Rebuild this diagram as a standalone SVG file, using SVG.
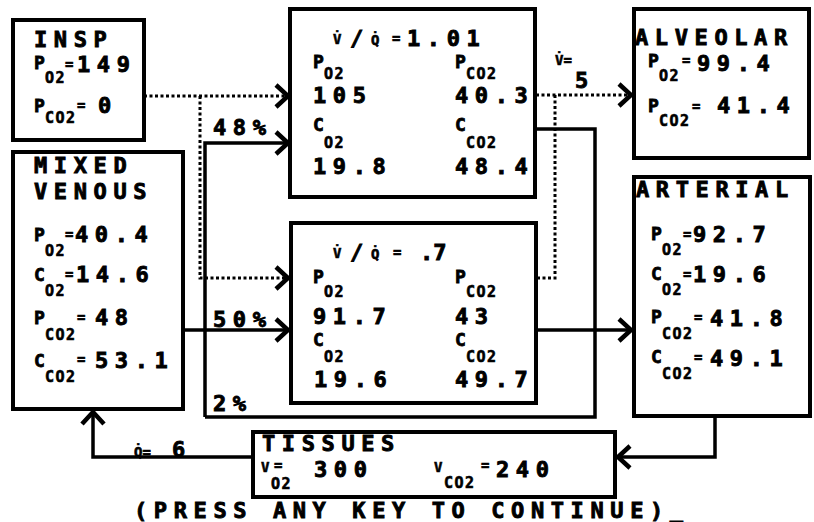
<svg xmlns="http://www.w3.org/2000/svg" width="814" height="522" viewBox="0 0 814 522">
<defs>
<style>
.t{font-family:"DejaVu Sans Mono","Liberation Mono",monospace;font-weight:bold;font-size:22px;letter-spacing:6.6px;fill:#000;stroke:#000;stroke-width:0.9px}
.s{font-size:15px;letter-spacing:1.5px;stroke-width:0.6px}
.e{font-size:14px;letter-spacing:0;stroke-width:0.6px}
.p{font-size:18px;letter-spacing:0;stroke-width:0.8px}
.n{letter-spacing:0}
.box{fill:#fff;stroke:#000;stroke-width:4}
.ln{fill:none;stroke:#000;stroke-width:3.5}
.dot{fill:none;stroke:#000;stroke-width:3;stroke-dasharray:3 2.5}
</style>
<marker id="ar" markerUnits="userSpaceOnUse" markerWidth="24" markerHeight="30" viewBox="-16 -15 20 30" refX="0" refY="0" orient="auto">
<path d="M-12,-11 L0,0 L-12,11" fill="none" stroke="#000" stroke-width="4.5" stroke-dasharray="none"/>
</marker>
</defs>
<rect width="814" height="522" fill="#fff"/>

<g id="connectors">
<path class="dot" d="M144,96 H288" marker-end="url(#ar)"/>
<path class="dot" d="M200,96 V278 H288" marker-end="url(#ar)"/>
<path class="ln" d="M205,417 V143 H288" marker-end="url(#ar)"/>
<path class="ln" d="M183,330 H288" marker-end="url(#ar)"/>
<path class="ln" d="M205,417 H595 V129 H536"/>
<path class="ln" d="M537,330 H631" marker-end="url(#ar)"/>
<path class="dot" d="M536,95 H631" marker-end="url(#ar)"/>
<path class="dot" d="M555,95 V278 H537"/>
<path class="ln" d="M715,416 V457 H618" marker-end="url(#ar)"/>
<path class="ln" d="M253,457 H93 V412" marker-end="url(#ar)"/>
<text class="t" x="213" y="135">48%</text>
<text class="t" x="213" y="327">50%</text>
<text class="t" x="213" y="411">2%</text>
<text class="t" x="555" y="65"><tspan class="e">V̇=</tspan><tspan x="575" y="88">5</tspan></text>
<text class="t" x="134" y="457"><tspan class="e">Q̇=</tspan><tspan x="172" y="457">6</tspan></text>
</g>

<g id="insp">
<rect class="box" x="13" y="20" width="131" height="120"/>
<text class="t" x="34" y="47">INSP</text>
<text class="t" x="34" y="69"><tspan class="p">P</tspan><tspan class="s" x="45" y="83">O2</tspan><tspan class="e" x="65" y="69">=</tspan><tspan x="77" y="72">149</tspan></text>
<text class="t" x="34" y="112"><tspan class="p">P</tspan><tspan class="s" x="45" y="123">CO2</tspan><tspan class="e" x="77" y="110">=</tspan><tspan x="98" y="113">0</tspan></text>
</g>

<g id="mixed-venous">
<rect class="box" x="13" y="152" width="170" height="257"/>
<text class="t" x="34" y="173">MIXED</text>
<text class="t" x="34" y="199">VENOUS</text>
<text class="t" x="34" y="241"><tspan class="p">P</tspan><tspan class="s" x="45" y="256">O2</tspan><tspan class="e" x="65" y="239">=</tspan><tspan x="75" y="242">40.4</tspan></text>
<text class="t" x="34" y="281"><tspan class="p">C</tspan><tspan class="s" x="45" y="296">O2</tspan><tspan class="e" x="65" y="279">=</tspan><tspan x="76" y="282">14.6</tspan></text>
<text class="t" x="34" y="324"><tspan class="p">P</tspan><tspan class="s" x="45" y="340">CO2</tspan><tspan class="e" x="77" y="322">=</tspan><tspan x="95" y="325">48</tspan></text>
<text class="t" x="34" y="367"><tspan class="p">C</tspan><tspan class="s" x="45" y="382">CO2</tspan><tspan class="e" x="77" y="364">=</tspan><tspan x="95" y="368">53.1</tspan></text>
</g>

<g id="unit-high">
<rect class="box" x="290" y="9" width="245" height="188"/>
<text class="t" x="333" y="44"><tspan class="e">V̇</tspan><tspan x="350" y="46">/</tspan><tspan class="e" x="371" y="45">Q̇</tspan><tspan class="e" x="392" y="43">=</tspan><tspan x="407" y="46">1.01</tspan></text>
<text class="t" x="313" y="68"><tspan class="p">P</tspan><tspan class="s" x="324" y="79">O2</tspan></text>
<text class="t" x="455" y="68"><tspan class="p">P</tspan><tspan class="s" x="466" y="79">CO2</tspan></text>
<text class="t" x="313" y="103">105</text>
<text class="t" x="455" y="103">40.3</text>
<text class="t" x="313" y="131"><tspan class="p">C</tspan><tspan class="s" x="324" y="148">O2</tspan></text>
<text class="t" x="455" y="131"><tspan class="p">C</tspan><tspan class="s" x="466" y="148">CO2</tspan></text>
<text class="t" x="313" y="174">19.8</text>
<text class="t" x="455" y="174">48.4</text>
</g>

<g id="unit-low">
<rect class="box" x="291" y="223" width="245" height="180"/>
<text class="t" x="333" y="258"><tspan class="e">V̇</tspan><tspan x="350" y="260">/</tspan><tspan class="e" x="371" y="259">Q̇</tspan><tspan class="e" x="393" y="257">=</tspan><tspan class="n" x="420" y="260">.7</tspan></text>
<text class="t" x="313" y="283"><tspan class="p">P</tspan><tspan class="s" x="324" y="297">O2</tspan></text>
<text class="t" x="455" y="283"><tspan class="p">P</tspan><tspan class="s" x="466" y="297">CO2</tspan></text>
<text class="t" x="313" y="324">91.7</text>
<text class="t" x="455" y="324">43</text>
<text class="t" x="313" y="346"><tspan class="p">C</tspan><tspan class="s" x="324" y="362">O2</tspan></text>
<text class="t" x="455" y="346"><tspan class="p">C</tspan><tspan class="s" x="466" y="362">CO2</tspan></text>
<text class="t" x="314" y="387">19.6</text>
<text class="t" x="455" y="387">49.7</text>
</g>

<g id="alveolar">
<rect class="box" x="634" y="9" width="175" height="149"/>
<text class="t" x="635" y="45">ALVEOLAR</text>
<text class="t" x="648" y="67"><tspan class="p">P</tspan><tspan class="s" x="659" y="81">O2</tspan><tspan class="e" x="682" y="65">=</tspan><tspan x="697" y="71">99.4</tspan></text>
<text class="t" x="648" y="112"><tspan class="p">P</tspan><tspan class="s" x="659" y="126">CO2</tspan><tspan class="e" x="692" y="111">=</tspan><tspan x="717" y="113">41.4</tspan></text>
</g>

<g id="arterial">
<rect class="box" x="634" y="177" width="176" height="239"/>
<text class="t" x="636" y="197">ARTERIAL</text>
<text class="t" x="651" y="240"><tspan class="p">P</tspan><tspan class="s" x="662" y="255">O2</tspan><tspan class="e" x="683" y="239">=</tspan><tspan x="693" y="242">92.7</tspan></text>
<text class="t" x="651" y="280"><tspan class="p">C</tspan><tspan class="s" x="662" y="295">O2</tspan><tspan class="e" x="683" y="279">=</tspan><tspan x="693" y="282">19.6</tspan></text>
<text class="t" x="651" y="323"><tspan class="p">P</tspan><tspan class="s" x="662" y="339">CO2</tspan><tspan class="e" x="694" y="322">=</tspan><tspan x="710" y="326">41.8</tspan></text>
<text class="t" x="651" y="363"><tspan class="p">C</tspan><tspan class="s" x="662" y="379">CO2</tspan><tspan class="e" x="694" y="362">=</tspan><tspan x="710" y="366">49.1</tspan></text>
</g>

<g id="tissues">
<rect class="box" x="253" y="432" width="362" height="65"/>
<text class="t" x="262" y="451">TISSUES</text>
<text class="t" x="261" y="472"><tspan class="e">V</tspan><tspan class="e" x="274" y="470">=</tspan><tspan class="s" x="271" y="489">O2</tspan><tspan x="314" y="477">300</tspan></text>
<text class="t" x="434" y="472"><tspan class="e">V</tspan><tspan class="s" x="444" y="488">CO2</tspan><tspan class="e" x="481" y="470">=</tspan><tspan x="496" y="477">240</tspan></text>
</g>

<text class="t" x="134" y="518">(PRESS ANY KEY TO CONTINUE)_</text>
</svg>
